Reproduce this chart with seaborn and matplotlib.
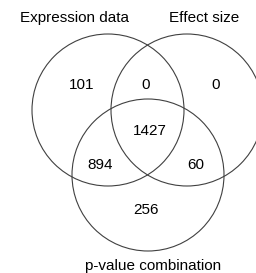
import numpy as np
import matplotlib.pyplot as plt
import matplotlib.patches as mpatches
import seaborn as sns

# === data ===
set_names = ["Expression data", "Effect size", "p-value combination"]
region_keys = ["A", "AB", "B", "ABC", "AC", "BC", "C"]
region_counts = [101, 0, 0, 1427, 894, 60, 256]

# === layout (pixel coords) ===
centers = {"A": (108, 110), "B": (187, 110), "C": (148, 175)}
radius = 76
region_pos = {"A": (82, 85), "AB": (146, 85), "B": (216, 85), "ABC": (150, 131),
              "AC": (100, 165), "BC": (196, 165), "C": (146, 210)}
name_pos = [(74, 18), (204, 18), (153, 266)]

sns.set_theme(style="white")
plt.rcParams['font.family'] = ['Liberation Sans', 'DejaVu Sans']

fig = plt.figure(figsize=(2.56, 2.73), dpi=100)
ax = fig.add_axes([0, 0, 1, 1])
ax.set_xlim(0, 256)
ax.set_ylim(273, 0)
ax.set_axis_off()

for key in ["A", "B", "C"]:
    ax.add_patch(mpatches.Circle(centers[key], radius, fill=False,
                                 edgecolor="#404040", linewidth=0.8))

for key, n in zip(region_keys, region_counts):
    x, y = region_pos[key]
    ax.text(x, y, str(n), ha="center", va="center", fontsize=11, color="black")

for name, (x, y) in zip(set_names, name_pos):
    ax.text(x, y, name, ha="center", va="center", fontsize=11, color="black")

fig.savefig("out.png", dpi=100)
